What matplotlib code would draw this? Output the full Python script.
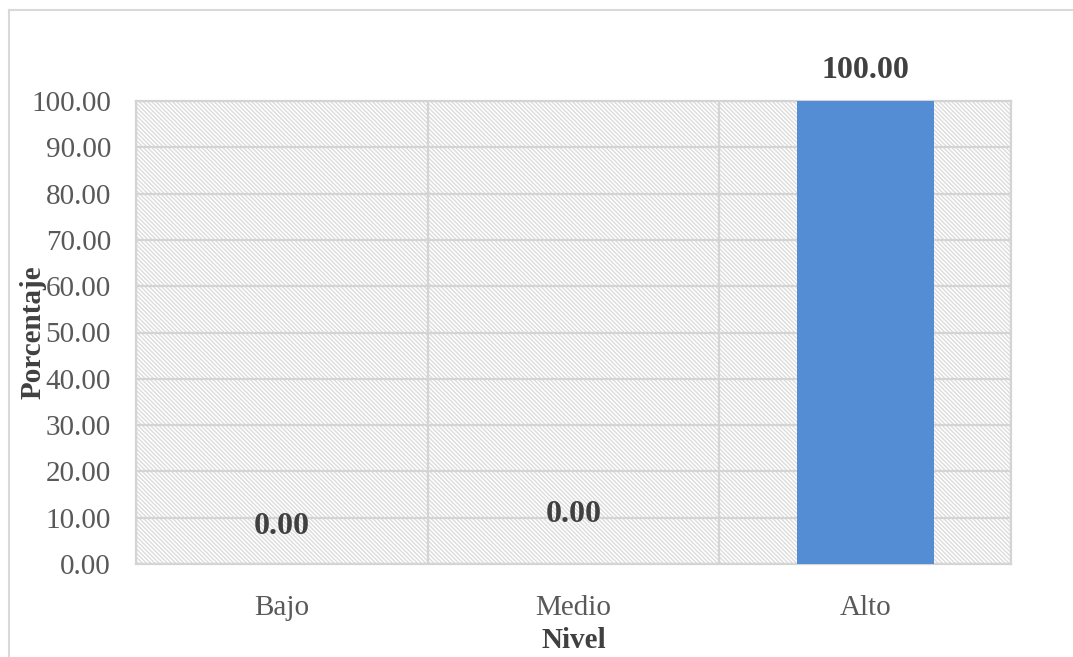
import numpy as np
import matplotlib.pyplot as plt
from matplotlib.lines import Line2D
from matplotlib.patches import Rectangle

niveles = ['Bajo', 'Medio', 'Alto']
porcentaje = [0.00, 0.00, 100.00]
# desplazamiento vertical de las etiquetas (px), como en el original
label_dy = [37, 49, 31]

plt.rcParams['font.family'] = ['Liberation Serif', 'DejaVu Serif']
plt.rcParams['hatch.color'] = '#dcdcdc'
plt.rcParams['hatch.linewidth'] = 1.0

fig = plt.figure(figsize=(10.73, 6.57), dpi=100)
W, H = 1073, 657
ax = fig.add_axes([136 / W, 1 - 564 / H, (1011 - 136) / W, (564 - 101) / H])

# fondo rayado del área de trazado
ax.add_patch(Rectangle((0, 0), 1, 1, transform=ax.transAxes, facecolor='white',
                       edgecolor='#dcdcdc', hatch='\\' * 8, linewidth=0, zorder=0))

x = np.arange(len(niveles))
ax.bar(x, porcentaje, width=0.47, color='#548dd4', zorder=3)

ax.set_xlim(-0.5, len(niveles) - 0.5)
ax.set_ylim(0, 100)
ax.set_yticks(np.arange(0, 101, 10))
ax.set_yticklabels([f'{v:.2f}' for v in np.arange(0, 101, 10)])
ax.set_xticks(x)
ax.set_xticklabels(niveles)
ax.set_xticks(np.arange(-0.5, len(niveles), 1), minor=True)

ax.grid(axis='y', color='#d4d4d4', linewidth=1.6, zorder=1)
ax.grid(axis='x', which='minor', color='#d4d4d4', linewidth=1.6, zorder=1)
ax.tick_params(axis='both', which='both', length=0, labelsize=21, colors='#595959')
ax.tick_params(axis='y', pad=18)
ax.tick_params(axis='x', pad=22)
for s in ax.spines.values():
    s.set_color('#d4d4d4')
    s.set_linewidth(1.6)

for xi, v, dy in zip(x, porcentaje, label_dy):
    ax.annotate(f'{v:.2f}', (xi, v), xytext=(0, dy), textcoords='offset pixels',
                ha='center', va='center', fontsize=23, fontweight='bold', color='#404040')

fig.text(574 / W, 1 - 640 / H, 'Nivel', ha='center', va='center',
         fontsize=21, fontweight='bold', color='#404040')
fig.text(33 / W, 1 - 332 / H, 'Porcentaje', ha='center', va='center', rotation=90,
         fontsize=21, fontweight='bold', color='#404040')

# borde del gráfico
fig.add_artist(Line2D([9 / W, 9 / W], [0, 1 - 10 / H], transform=fig.transFigure,
                      color='#d9d9d9', linewidth=1.5))
fig.add_artist(Line2D([9 / W, 1], [1 - 10 / H, 1 - 10 / H], transform=fig.transFigure,
                      color='#d9d9d9', linewidth=1.5))

fig.savefig('out.png', dpi=100)
